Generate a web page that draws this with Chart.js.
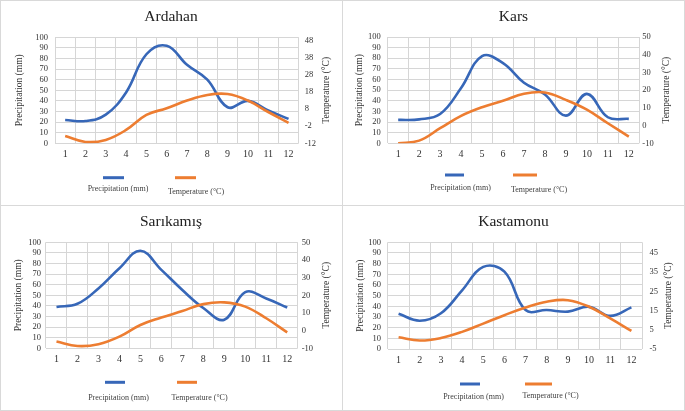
<!DOCTYPE html>
<html>
<head>
<meta charset="utf-8">
<script src="https://cdn.jsdelivr.net/npm/chart.js@4.4.1/dist/chart.umd.min.js"></script>
<style>
  body { margin: 0; background: #fff; }
  #wrap { position: relative; width: 685px; height: 411px; overflow: hidden; }
  .frame { position: absolute; box-sizing: border-box; border: 1px solid #d9d9d9; }
  canvas { position: absolute; }
</style>
</head>
<body>
<div id="wrap">
  <div class="frame" style="left:0;top:0;width:343px;height:206px"></div>
  <div class="frame" style="left:342px;top:0;width:343px;height:206px"></div>
  <div class="frame" style="left:0;top:205px;width:343px;height:206px"></div>
  <div class="frame" style="left:342px;top:205px;width:343px;height:206px"></div>
  <canvas id="ardahan" width="342" height="205" style="left:0;top:0"></canvas>
  <canvas id="kars" width="343" height="205" style="left:342px;top:0"></canvas>
  <canvas id="sarikamis" width="342" height="205" style="left:0;top:205px"></canvas>
  <canvas id="kastamonu" width="343" height="205" style="left:342px;top:205px"></canvas>
</div>
<script>
// month labels on the x axis
const months = ['1', '2', '3', '4', '5', '6', '7', '8', '9', '10', '11', '12'];

// monthly precipitation (mm) and temperature (°C)
const ardahanPrecip = [22, 21, 27, 48, 84, 92, 74, 60, 34, 40, 31, 23];
const ardahanTemp = [-7.7, -11.2, -10, -4.2, 4.6, 8.5, 13, 16.3, 16.8, 13, 6.3, 0];

const karsPrecip = [22, 22.5, 27.5, 52, 82, 75.5, 57, 46, 26, 46.5, 24.5, 23];
const karsTemp = [-10, -8.5, -1.5, 5.5, 10.4, 14, 18, 18.7, 14.5, 9, 1.3, -6.2];

const sarikamisPrecip = [39, 42, 56.5, 75.5, 92, 74, 55, 38, 27, 53, 47, 38.5];
const sarikamisTemp = [-6.2, -8.7, -7.7, -3.4, 3.2, 7.4, 11.1, 15, 16, 13.6, 7, -1];

const kastamonuPrecip = [33, 26.5, 33.5, 55, 77, 72.5, 36.5, 36.5, 35, 39.5, 31, 39];
const kastamonuTemp = [1.1, -0.6, 0.7, 3.9, 8.2, 12.6, 16.6, 19.6, 20.4, 17, 10.9, 4.4];

// tick values of the secondary (temperature) axes
const ardahanTempTicks = [-12, -2, 8, 18, 28, 38, 48];
const karsTempTicks = [-10, 0, 10, 20, 30, 40, 50];
const sarikamisTempTicks = [-10, 0, 10, 20, 30, 40, 50];
const kastamonuTempTicks = [-5, 5, 15, 25, 35, 45];

const BLUE = '#3767b8';
const ORANGE = '#ed7d31';
const GRID = '#d6d6d6';
const SERIF = "'Liberation Serif', 'Times New Roman', serif";

// legend as in the original (short line above each label) and the
// right axis title, which reads bottom-to-top like the left one
const pairLegend = {
  id: 'pairLegend',
  afterDraw(chart, args, opts) {
    const ctx = chart.ctx;
    const area = chart.chartArea;
    ctx.save();
    chart.data.datasets.forEach(ds => {
      const pos = opts.items[ds.label];
      if (!pos) return;
      ctx.strokeStyle = ds.borderColor;
      ctx.lineWidth = 3;
      ctx.beginPath();
      ctx.moveTo(pos.x1, pos.ly);
      ctx.lineTo(pos.x2, pos.ly);
      ctx.stroke();
      ctx.fillStyle = '#404040';
      ctx.font = '8px ' + SERIF;
      ctx.textAlign = 'center';
      ctx.textBaseline = 'middle';
      ctx.fillText(ds.label, pos.tx, pos.ty);
    });
    ctx.translate(chart.width - opts.rTitle, (area.top + area.bottom) / 2);
    ctx.rotate(-Math.PI / 2);
    ctx.fillStyle = '#333';
    ctx.font = '9.5px ' + SERIF;
    ctx.textAlign = 'center';
    ctx.textBaseline = 'middle';
    ctx.fillText(opts.rText, 0, 0);
    ctx.restore();
  }
};

function makeChart(p) {
  const canvas = document.getElementById(p.id);
  const W = canvas.width, H = canvas.height;
  return new Chart(canvas, {
    type: 'line',
    data: {
      labels: months,
      datasets: [
        {
          label: 'Temperature (°C)',
          data: p.temp,
          yAxisID: 'y1',
          borderColor: ORANGE,
          backgroundColor: ORANGE,
          borderWidth: 2.6,
          pointRadius: 0,
          tension: 0.4,
          fill: false
        },
        {
          label: 'Precipitation (mm)',
          data: p.precip,
          yAxisID: 'y',
          borderColor: BLUE,
          backgroundColor: BLUE,
          borderWidth: 2.6,
          pointRadius: 0,
          tension: 0.4,
          fill: false
        }
      ]
    },
    options: {
      responsive: false,
      animation: false,
      layout: { padding: 0 },
      scales: {
        x: {
          type: 'category',
          offset: true,
          grid: { color: GRID, offset: true, drawTicks: false },
          border: { display: false },
          ticks: { autoSkip: false, maxRotation: 0, color: '#333', padding: 5, font: { family: SERIF, size: 10 } },
          afterFit: s => { s.height = H - p.bottom; }
        },
        y: {
          position: 'left',
          min: 0,
          max: 100,
          grid: { color: GRID, drawTicks: false },
          border: { display: false },
          ticks: { autoSkip: false, stepSize: 10, color: '#333', padding: p.lPad, font: { family: SERIF, size: 8.5 } },
          title: {
            display: true,
            text: 'Precipitation (mm)',
            color: '#333',
            font: { family: SERIF, size: 9.5 },
            padding: { top: p.lTitle, bottom: 0 }
          },
          afterFit: s => { s.width = p.left; }
        },
        y1: {
          position: 'right',
          min: p.tMin,
          max: p.tMax,
          grid: { drawOnChartArea: false, drawTicks: false },
          border: { display: false },
          ticks: { autoSkip: false, color: '#333', padding: p.rPad, font: { family: SERIF, size: 8.5 } },
          afterBuildTicks: s => { s.ticks = p.tTicks.map(v => ({ value: v })); },
          afterFit: s => { s.width = W - p.right; }
        }
      },
      plugins: {
        legend: { display: false },
        tooltip: { enabled: false },
        title: {
          display: true,
          text: p.title,
          color: '#222',
          font: { family: SERIF, size: 15.5, weight: 'normal' },
          padding: { top: 8, bottom: p.top - 26.6 }
        },
        pairLegend: { items: p.legend, rTitle: p.rTitle, rText: 'Temperature (°C)' }
      }
    },
    plugins: [pairLegend]
  });
}

makeChart({
  id: 'ardahan', title: 'Ardahan', precip: ardahanPrecip, temp: ardahanTemp,
  tMin: -12, tMax: 50, tTicks: ardahanTempTicks,
  left: 55, right: 298.7, top: 37.3, bottom: 143.3,
  lPad: 7, rPad: 6, lTitle: 14, rTitle: 16,
  legend: {
    'Precipitation (mm)': { x1: 103, x2: 124, ly: 177.7, tx: 118, ty: 189 },
    'Temperature (°C)': { x1: 175, x2: 196, ly: 177.7, tx: 196, ty: 192 }
  }
});

makeChart({
  id: 'kars', title: 'Kars', precip: karsPrecip, temp: karsTemp,
  tMin: -10, tMax: 50, tTicks: karsTempTicks,
  left: 45.7, right: 297.3, top: 37, bottom: 143.3,
  lPad: 7, rPad: 3, lTitle: 11.6, rTitle: 18.3,
  legend: {
    'Precipitation (mm)': { x1: 103, x2: 122, ly: 175, tx: 118.5, ty: 188 },
    'Temperature (°C)': { x1: 171, x2: 195, ly: 175, tx: 197, ty: 190 }
  }
});

makeChart({
  id: 'sarikamis', title: 'Sarıkamış', precip: sarikamisPrecip, temp: sarikamisTemp,
  tMin: -10, tMax: 50, tTicks: sarikamisTempTicks,
  left: 46, right: 297.7, top: 37.3, bottom: 143.3,
  lPad: 5, rPad: 4, lTitle: 12.6, rTitle: 16,
  legend: {
    'Precipitation (mm)': { x1: 105, x2: 125, ly: 177.3, tx: 118.5, ty: 192.7 },
    'Temperature (°C)': { x1: 177, x2: 197, ly: 177.3, tx: 199.5, ty: 192.7 }
  }
});

makeChart({
  id: 'kastamonu', title: 'Kastamonu', precip: kastamonuPrecip, temp: kastamonuTemp,
  tMin: -5, tMax: 50.5, tTicks: kastamonuTempTicks,
  left: 46, right: 300, top: 37.3, bottom: 144,
  lPad: 7, rPad: 7.5, lTitle: 12.3, rTitle: 16.7,
  legend: {
    'Precipitation (mm)': { x1: 118, x2: 138, ly: 179, tx: 131.5, ty: 192 },
    'Temperature (°C)': { x1: 183, x2: 210, ly: 179, tx: 208.5, ty: 191 }
  }
});
</script>
</body>
</html>
